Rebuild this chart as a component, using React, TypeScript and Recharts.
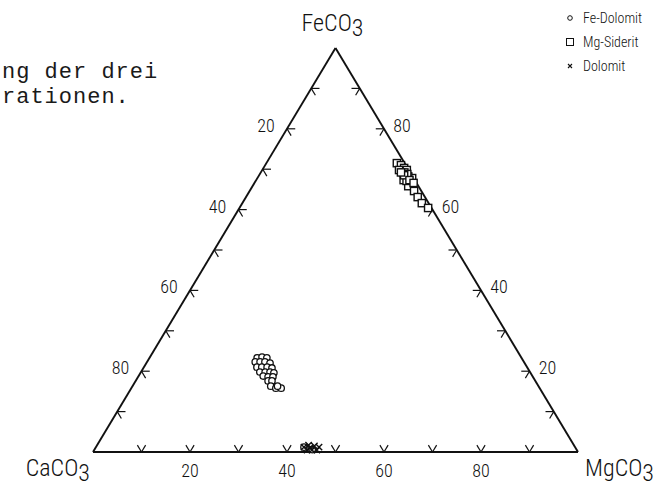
import { ScatterChart, Scatter, XAxis, YAxis, ReferenceLine, ReferenceDot, Legend } from "recharts"

// compositions, in % [CaCO3, MgCO3, FeCO3]
const feDolomit: number[][] = [
  [54.5, 22.2, 23.3], [53.4, 23.1, 23.5], [52.5, 24.2, 23.3], [55.4, 22.3, 22.3],
  [54.4, 23.3, 22.3], [53.4, 24.3, 22.3], [52.5, 25.5, 22.0], [55.7, 23.3, 21.0],
  [54.7, 24.3, 21.0], [53.6, 25.4, 21.0], [52.7, 26.5, 20.8], [55.7, 24.5, 19.8],
  [54.6, 25.6, 19.8], [53.6, 26.6, 19.8], [52.9, 27.5, 19.6], [55.5, 25.7, 18.8],
  [54.6, 26.8, 18.6], [53.6, 27.8, 18.6], [55.1, 27.3, 17.6], [54.3, 28.1, 17.6],
  [55.2, 28.5, 16.3], [54.4, 29.8, 15.8], [53.3, 30.9, 15.8], [53.8, 29.9, 16.3],
  [55.9, 42.9, 1.2], [54.5, 44.9, 0.6],
]

const mgSiderit: number[][] = [
  [1.6, 26.9, 71.5], [1.0, 28.0, 71.0], [0.7, 29.0, 70.3], [2.0, 28.2, 69.8],
  [1.5, 29.4, 69.1], [1.4, 30.3, 68.3], [1.0, 31.4, 67.6], [2.3, 30.4, 67.3],
  [1.3, 32.4, 66.3], [2.1, 32.1, 65.8], [1.5, 33.9, 64.6], [1.5, 35.4, 63.1],
  [1.4, 37.0, 61.6], [0.7, 38.9, 60.4], [0.4, 29.8, 69.8], [0.3, 31.9, 67.8],
  [0.9, 30.9, 68.2], [1.8, 31.1, 67.1], [1.2, 29.6, 69.2], [0.8, 30.4, 68.8],
  [1.6, 29.9, 68.5], [1.1, 31.6, 67.3], [0.6, 32.8, 66.6], [1.9, 28.9, 69.2],
]

const dolomit: number[][] = [
  [55.9, 42.9, 1.2], [54.7, 43.6, 1.7], [53.6, 44.9, 1.5], [52.8, 46.0, 1.2],
  [55.6, 43.9, 0.5], [54.6, 44.9, 0.5], [53.6, 45.9, 0.5], [54.8, 44.2, 1.0],
]

const seriesOrder = ["Fe-Dolomit", "Mg-Siderit", "Dolomit"]
const edgeTicks = [10, 20, 30, 40, 50, 60, 70, 80, 90]
const edgeLabels = [20, 40, 60, 80]

const STUB = 1.7
const font = "'Roboto Condensed', 'DejaVu Sans Condensed', 'Liberation Sans Narrow', sans-serif"

// ternary -> cartesian (x along CaCO3-MgCO3, y = FeCO3)
const pt = (ca: number, mg: number, fe: number) => ({ x: mg + fe / 2, y: fe })
const toRows = (list: number[][]) => list.map(([ca, mg, fe]) => pt(ca, mg, fe))

const seg = (a: number[], b: number[]) => [pt(a[0], a[1], a[2]), pt(b[0], b[1], b[2])]

const tickSegments = edgeTicks.flatMap((t) => [
  // left edge (CaCO3 - FeCO3)
  seg([100 - t, 0, t], [100 - t - STUB, STUB, t]),
  seg([100 - t, 0, t], [100 - t, STUB, t - STUB]),
  // bottom edge (CaCO3 - MgCO3)
  seg([100 - t, t, 0], [100 - t - STUB, t, STUB]),
  seg([100 - t, t, 0], [100 - t, t - STUB, STUB]),
  // right edge (MgCO3 - FeCO3)
  seg([0, 100 - t, t], [STUB, 100 - t - STUB, t]),
  seg([0, 100 - t, t], [STUB, 100 - t, t - STUB]),
])

const triangle = [seg([100, 0, 0], [0, 100, 0]), seg([0, 100, 0], [0, 0, 100]), seg([0, 0, 100], [100, 0, 0])]

const Circle = (p: any) => <circle cx={p.cx} cy={p.cy} r={3.2} fill="#fff" stroke="#111" strokeWidth={1.3} />
const Square = (p: any) => (
  <rect x={p.cx - 3.6} y={p.cy - 3.6} width={7.2} height={7.2} fill="#fff" stroke="#111" strokeWidth={1.4} />
)
const Cross = (p: any) => (
  <path
    d={`M${p.cx - 3.2},${p.cy - 3.2}L${p.cx + 3.2},${p.cy + 3.2}M${p.cx - 3.2},${p.cy + 3.2}L${p.cx + 3.2},${p.cy - 3.2}`}
    stroke="#111"
    strokeWidth={1.4}
  />
)

const label = (text: string, dx: number, dy: number) => (p: any) => (
  <text x={p.cx + dx} y={p.cy + dy} textAnchor="middle" fontSize={18} fontFamily={font} fontWeight={300} fill="#111">
    {text}
  </text>
)

const vertex = (name: string, dx: number, dy: number, anchor: string) => (p: any) => (
  <text x={p.cx + dx} y={p.cy + dy} textAnchor={anchor} fontSize={24} fontFamily={font} fontWeight={300} fill="#111">
    {name}CO
    <tspan dy={5}>3</tspan>
  </text>
)

const LegendBox = ({ payload }: any) => {
  const items = [...(payload || [])].sort((a: any, b: any) => seriesOrder.indexOf(a.value) - seriesOrder.indexOf(b.value))
  return (
    <div style={{ fontFamily: font, fontWeight: 300, fontSize: 14, color: "#111" }}>
      {items.map((entry: any) => (
        <div key={entry.value} style={{ display: "flex", alignItems: "center", height: 24 }}>
          <svg width={16} height={24}>
            {entry.value === "Fe-Dolomit" ? <circle cx={7} cy={12} r={2.3} fill="#fff" stroke="#111" strokeWidth={1} /> : null}
            {entry.value === "Mg-Siderit" ? (
              <rect x={3.5} y={8.5} width={7} height={7} fill="#fff" stroke="#111" strokeWidth={1} />
            ) : null}
            {entry.value === "Dolomit" ? (
              <path d="M5,10L9,14M5,14L9,10" stroke="#111" strokeWidth={1.1} />
            ) : null}
          </svg>
          <span style={{ marginLeft: 4 }}>{entry.value}</span>
        </div>
      ))}
    </div>
  )
}

export default function App() {
  return (
    <div style={{ position: "absolute", left: 0, top: 0, width: 658, height: 489, background: "#fff", overflow: "hidden" }}>
      <div
        style={{
          position: "absolute",
          left: 2,
          top: 60,
          fontFamily: "'Liberation Mono', monospace",
          fontSize: 22,
          letterSpacing: 1,
          lineHeight: "25px",
          color: "#1a1a1a",
          whiteSpace: "pre",
        }}
      >
        <div>ng der drei</div>
        <div>rationen.</div>
      </div>
      <ScatterChart width={658} height={489} margin={{ top: 48, right: 80, bottom: 37, left: 93 }}>
        <XAxis type="number" dataKey="x" domain={[0, 100]} hide />
        <YAxis type="number" dataKey="y" domain={[0, 100]} hide />
        {triangle.map((s, i) => (
          <ReferenceLine key={`e${i}`} segment={s} stroke="#111" strokeWidth={1.9} ifOverflow="visible" />
        ))}
        {tickSegments.map((s, i) => (
          <ReferenceLine key={`t${i}`} segment={s} stroke="#111" strokeWidth={1.2} ifOverflow="visible" />
        ))}
        {edgeLabels.map((v) => (
          <ReferenceDot key={`l${v}`} {...pt(v, 0, 100 - v)} r={0} ifOverflow="visible" shape={label(String(v), -21, 3)} />
        ))}
        {edgeLabels.map((v) => (
          <ReferenceDot key={`r${v}`} {...pt(0, 100 - v, v)} r={0} ifOverflow="visible" shape={label(String(v), 18, 3)} />
        ))}
        {edgeLabels.map((v) => (
          <ReferenceDot key={`b${v}`} {...pt(100 - v, v, 0)} r={0} ifOverflow="visible" shape={label(String(v), 0, 25)} />
        ))}
        <ReferenceDot {...pt(0, 0, 100)} r={0} ifOverflow="visible" shape={vertex("Fe", -3, -17, "middle")} />
        <ReferenceDot {...pt(100, 0, 0)} r={0} ifOverflow="visible" shape={vertex("Ca", -3, 24, "end")} />
        <ReferenceDot {...pt(0, 100, 0)} r={0} ifOverflow="visible" shape={vertex("Mg", 7, 24, "start")} />
        <Scatter name="Fe-Dolomit" data={toRows(feDolomit)} shape={Circle} isAnimationActive={false} />
        <Scatter name="Mg-Siderit" data={toRows(mgSiderit)} shape={Square} isAnimationActive={false} />
        <Scatter name="Dolomit" data={toRows(dolomit)} shape={Cross} isAnimationActive={false} />
        <Legend
          layout="horizontal"
          verticalAlign="middle"
          align="center"
          content={<LegendBox />}
          wrapperStyle={{ top: 6, left: 563, width: 95 }}
        />
      </ScatterChart>
    </div>
  )
}
